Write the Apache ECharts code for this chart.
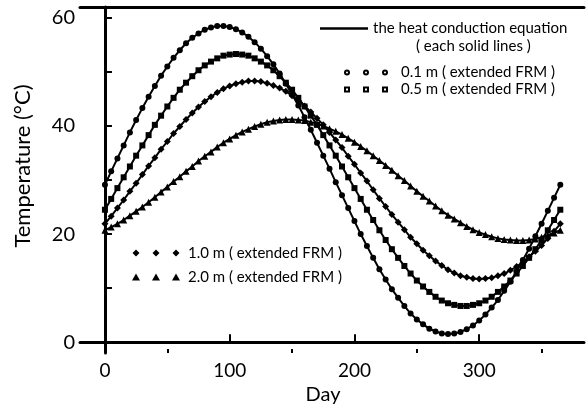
<!DOCTYPE html>
<html>
<head>
<meta charset="utf-8">
<script src="https://cdn.jsdelivr.net/npm/echarts@6/dist/echarts.min.js"></script>
<style>
html, body { margin: 0; padding: 0; background: #fff; }
#chart { width: 586px; height: 405px; }
</style>
</head>
<body>
<div id="chart"></div>
<script>
// day of year (every 5 days)
const days = [0, 5, 10, 15, 20, 25, 30, 35, 40, 45, 50, 55, 60, 65, 70, 75, 80, 85, 90, 95,
  100, 105, 110, 115, 120, 125, 130, 135, 140, 145, 150, 155, 160, 165, 170, 175, 180, 185, 190, 195,
  200, 205, 210, 215, 220, 225, 230, 235, 240, 245, 250, 255, 260, 265, 270, 275, 280, 285, 290, 295,
  300, 305, 310, 315, 320, 325, 330, 335, 340, 345, 350, 355, 360, 365]

// temperature at 0.1 m
const temp01 = [29.1, 31.6, 34.0, 36.4, 38.8, 41.1, 43.3, 45.4, 47.4, 49.3,
  51.0, 52.6, 54.0, 55.3, 56.3, 57.1, 57.8, 58.2, 58.5, 58.5,
  58.3, 57.9, 57.3, 56.5, 55.5, 54.3, 52.9, 51.4, 49.7, 47.8,
  45.8, 43.8, 41.6, 39.3, 36.9, 34.5, 32.1, 29.6, 27.2, 24.8,
  22.4, 20.0, 17.8, 15.6, 13.5, 11.6, 9.8, 8.2, 6.7, 5.3,
  4.2, 3.3, 2.5, 2.0, 1.6, 1.5, 1.6, 1.9, 2.4, 3.1,
  4.0, 5.1, 6.4, 7.8, 9.5, 11.2, 13.1, 15.2, 17.3, 19.6,
  21.9, 24.3, 26.7, 29.1]

// temperature at 0.5 m
const temp05 = [24.5, 26.5, 28.5, 30.5, 32.5, 34.5, 36.4, 38.3, 40.2, 41.9,
  43.6, 45.2, 46.7, 48.0, 49.2, 50.3, 51.2, 51.9, 52.5, 53.0,
  53.2, 53.3, 53.2, 53.0, 52.5, 51.9, 51.2, 50.3, 49.2, 48.0,
  46.7, 45.2, 43.6, 41.9, 40.2, 38.3, 36.4, 34.5, 32.5, 30.5,
  28.5, 26.5, 24.5, 22.6, 20.7, 18.9, 17.2, 15.6, 14.1, 12.7,
  11.4, 10.3, 9.3, 8.4, 7.7, 7.2, 6.9, 6.7, 6.7, 6.9,
  7.2, 7.7, 8.4, 9.3, 10.3, 11.4, 12.7, 14.1, 15.6, 17.2,
  18.9, 20.7, 22.6, 24.5]

// temperature at 1.0 m
const temp10 = [21.9, 23.3, 24.8, 26.3, 27.9, 29.4, 31.0, 32.6, 34.1, 35.7,
  37.1, 38.6, 39.9, 41.2, 42.4, 43.5, 44.5, 45.4, 46.2, 46.9,
  47.4, 47.8, 48.1, 48.3, 48.3, 48.2, 47.9, 47.5, 47.0, 46.4,
  45.6, 44.7, 43.7, 42.6, 41.4, 40.2, 38.8, 37.4, 36.0, 34.4,
  32.9, 31.3, 29.8, 28.2, 26.6, 25.1, 23.6, 22.2, 20.8, 19.4,
  18.2, 17.0, 16.0, 15.0, 14.2, 13.4, 12.8, 12.3, 12.0, 11.8,
  11.7, 11.8, 11.9, 12.3, 12.7, 13.3, 14.0, 14.8, 15.8, 16.8,
  17.9, 19.2, 20.5, 21.9]

// temperature at 2.0 m
const temp20 = [20.7, 21.3, 21.9, 22.6, 23.4, 24.2, 25.0, 25.9, 26.8, 27.8,
  28.7, 29.7, 30.6, 31.6, 32.5, 33.5, 34.4, 35.2, 36.1, 36.9,
  37.6, 38.3, 38.9, 39.4, 39.9, 40.3, 40.7, 40.9, 41.1, 41.2,
  41.2, 41.1, 41.0, 40.7, 40.4, 40.0, 39.5, 39.0, 38.4, 37.7,
  37.0, 36.2, 35.4, 34.5, 33.6, 32.7, 31.8, 30.8, 29.9, 28.9,
  27.9, 27.0, 26.1, 25.2, 24.3, 23.5, 22.8, 22.1, 21.4, 20.8,
  20.3, 19.9, 19.5, 19.2, 19.0, 18.9, 18.8, 18.8, 18.9, 19.1,
  19.4, 19.8, 20.2, 20.7]

const xTicks = [0, 100, 200, 300]
const xMinorTicks = [50, 150, 250, 350]
const yTicks = [0, 20, 40, 60]
const yAllTicks = [0, 10, 20, 30, 40, 50, 60]

const names = ['0.1 m ( extended FRM )', '0.5 m ( extended FRM )', '1.0 m ( extended FRM )', '2.0 m ( extended FRM )']
const heatName = 'the heat conduction equation'

const font = 'Lato'
const pairs = arr => days.map((d, i) => [d, arr[i]])

// legend icons: three marks in a row
const iconCircles = 'path://M0,3a3,3 0 1,0 6,0a3,3 0 1,0 -6,0zM2,3a1,1 0 1,1 2,0a1,1 0 1,1 -2,0z' +
  'M19,3a3,3 0 1,0 6,0a3,3 0 1,0 -6,0zM21,3a1,1 0 1,1 2,0a1,1 0 1,1 -2,0z' +
  'M38,3a3,3 0 1,0 6,0a3,3 0 1,0 -6,0zM40,3a1,1 0 1,1 2,0a1,1 0 1,1 -2,0z'
const iconSquares = 'path://M0,0h6v6h-6zM2,2v2h2v-2z M19,0h6v6h-6zM21,2v2h2v-2z M38,0h6v6h-6zM40,2v2h2v-2z'
const iconDiamonds = 'path://M3.5,0l3.5,3.5l-3.5,3.5l-3.5,-3.5z M23.5,0l3.5,3.5l-3.5,3.5l-3.5,-3.5z M43.5,0l3.5,3.5l-3.5,3.5l-3.5,-3.5z'
const iconTriangles = 'path://M4,0l4,7h-8z M24,0l4,7h-8z M44,0l4,7h-8z'

const mychart = echarts.init(document.getElementById('chart'))

function mkSeries(name, arr, symbol, size) {
  return {
    name: name,
    type: 'line',
    data: pairs(arr),
    symbol: symbol,
    symbolSize: size,
    showAllSymbol: true,
    itemStyle: { color: '#000' },
    lineStyle: { color: '#000', width: 2 }
  }
}

mychart.setOption({
  animation: false,
  backgroundColor: '#fff',
  textStyle: { fontFamily: font, color: '#000' },
  grid: { left: 80, right: 2, top: 7, bottom: 52, outerBoundsMode: 'none' },
  title: {
    text: '( each solid lines )',
    left: 411,
    top: 34,
    textStyle: { fontFamily: font, fontSize: 15, fontWeight: 'normal', color: '#000' }
  },
  legend: [
    {
      left: 315, top: 16,
      itemWidth: 48, itemHeight: 2.5,
      data: [{ name: heatName, icon: 'rect' }],
      textStyle: { fontFamily: font, fontSize: 15, color: '#000' }
    },
    {
      left: 339, top: 59, orient: 'vertical', itemGap: 0,
      itemWidth: 44, itemHeight: 6,
      data: [{ name: names[0], icon: iconCircles }, { name: names[1], icon: iconSquares }],
      textStyle: { fontFamily: font, fontSize: 15, color: '#000', lineHeight: 17, padding: [0, 0, 0, 8] }
    },
    {
      left: 127, top: 236, orient: 'vertical', itemGap: 0,
      itemWidth: 48, itemHeight: 7,
      data: [{ name: names[2], icon: iconDiamonds }, { name: names[3], icon: iconTriangles }],
      textStyle: { fontFamily: font, fontSize: 15, color: '#000', lineHeight: 24, padding: [0, 0, 0, 3] }
    }
  ],
  xAxis: [
    {
      type: 'value', min: -20, max: 384, position: 'bottom',
      name: 'Day', nameLocation: 'middle', nameGap: 27,
      nameTextStyle: { fontFamily: font, fontSize: 20, color: '#000', padding: [0, 18, 0, 0] },
      axisLine: { lineStyle: { color: '#000', width: 3 } },
      axisTick: { inside: true, length: 8, lineStyle: { width: 2, color: '#000' }, customValues: xTicks },
      axisLabel: { fontFamily: font, fontSize: 19, color: '#000', margin: 8, customValues: xTicks },
      splitLine: { show: false }
    },
    {
      type: 'value', min: -20, max: 384, position: 'bottom',
      axisLine: { show: false },
      axisTick: { inside: true, length: 4, lineStyle: { width: 2, color: '#000' }, customValues: xMinorTicks },
      axisLabel: { show: false },
      splitLine: { show: false }
    },
    {
      type: 'value', min: -20, max: 384, position: 'top',
      axisLine: { lineStyle: { color: '#000', width: 3 } },
      axisTick: { show: false },
      axisLabel: { show: false },
      splitLine: { show: false }
    }
  ],
  yAxis: {
    type: 'value', min: -2, max: 62,
    name: 'Temperature (°C)', nameLocation: 'middle', nameGap: 46,
    nameTextStyle: { fontFamily: font, fontSize: 22, color: '#000', padding: [0, 0, 0, 28] },
    axisLine: { lineStyle: { color: '#000', width: 3 } },
    axisTick: { inside: true, length: 7, lineStyle: { width: 2, color: '#000' }, customValues: yAllTicks },
    axisLabel: { fontFamily: font, fontSize: 20, color: '#000', margin: 5, customValues: yTicks },
    splitLine: { show: false }
  },
  series: [
    { name: heatName, type: 'line', data: [], itemStyle: { color: '#000' }, lineStyle: { color: '#000', width: 2 } },
    mkSeries(names[3], temp20, 'triangle', 7),
    mkSeries(names[2], temp10, 'diamond', 7),
    mkSeries(names[1], temp05, 'rect', 6),
    mkSeries(names[0], temp01, 'circle', 6)
  ]
})
</script>
</body>
</html>
